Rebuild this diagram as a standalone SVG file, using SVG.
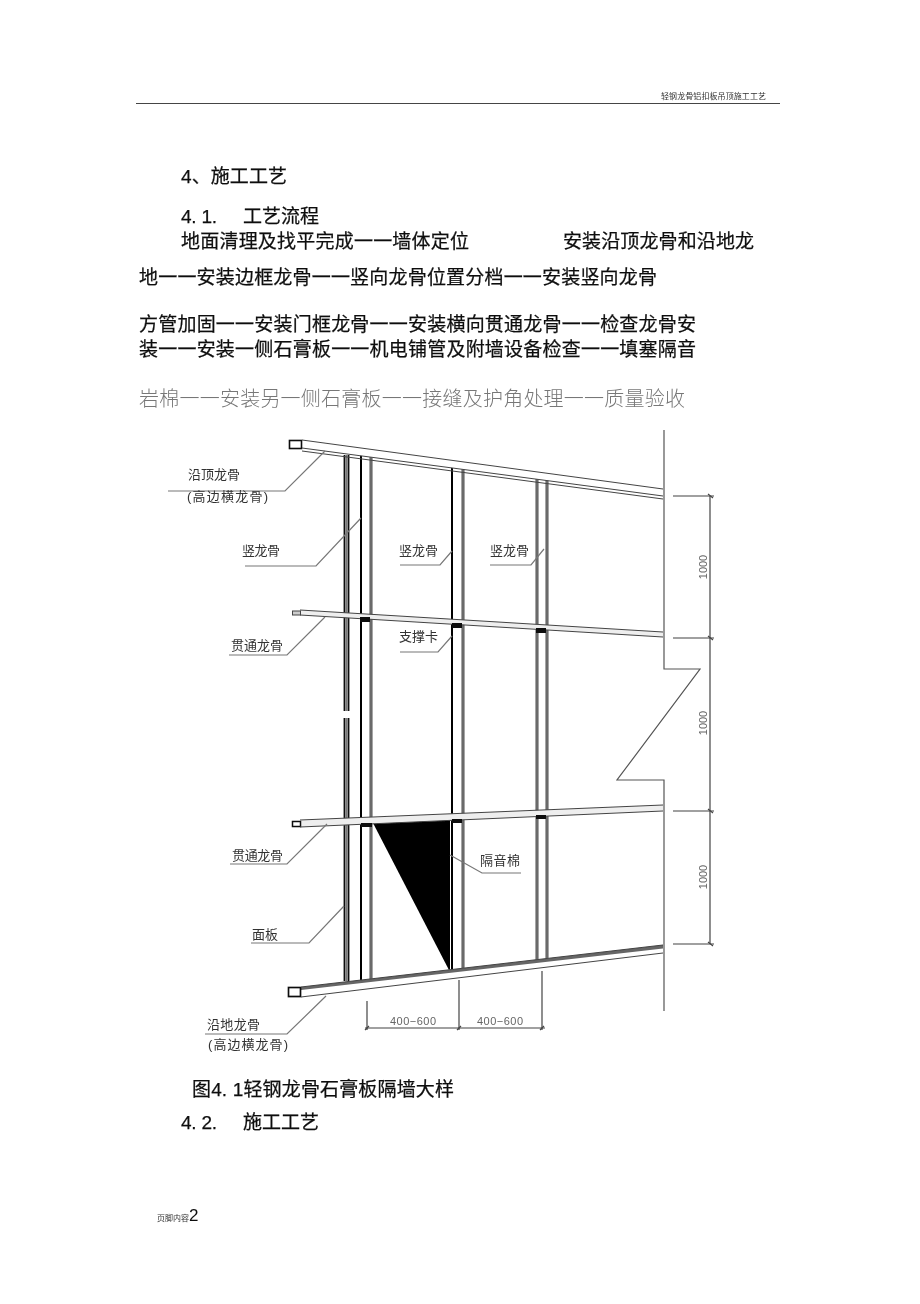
<svg xmlns="http://www.w3.org/2000/svg" width="920" height="1304" viewBox="0 0 920 1304">
<style>
text{font-family:"Liberation Sans","Noto Sans CJK SC",sans-serif;fill:#111}
.b{font-size:19px;stroke:#111;stroke-width:.25}
.g{font-size:20px;fill:#777;font-weight:300}
.h{font-size:8px;fill:#333}
.l{font-size:13px;fill:#333}
.n{font-size:11px;fill:#666}
.c{fill:none;stroke:#777;stroke-width:1.2}
.r{fill:none;stroke:#444;stroke-width:1}
.d{fill:none;stroke:#444;stroke-width:1.2}
.k{fill:none;stroke:#000;stroke-width:2}
.m{fill:none;stroke:#6a6a6a;stroke-width:3.200}
.w{fill:none;stroke:#555;stroke-width:1.2}
.s{fill:#111}
</style>
<defs><filter id="soft" x="-5%" y="-5%" width="110%" height="110%"><feGaussianBlur stdDeviation="0.35"/></filter>
<filter id="soft2" x="-5%" y="-5%" width="110%" height="110%"><feGaussianBlur stdDeviation="0.25"/></filter></defs>
<g id="page-header" filter="url(#soft2)">
<text class="h" x="661" y="99" textLength="105">轻钢龙骨铝扣板吊顶施工工艺</text>
<line x1="136" y1="103.5" x2="780" y2="103.5" stroke="#444" stroke-width="1"/>
</g>
<g id="body-text" filter="url(#soft2)">
<text class="b" x="181" y="183" textLength="106">4、施工工艺</text>
<text class="b" x="181" y="223" textLength="36">4. 1.</text>
<text class="b" x="243" y="223" textLength="76">工艺流程</text>
<text class="b" x="181" y="248" textLength="288">地面清理及找平完成一一墙体定位</text>
<text class="b" x="563" y="248" textLength="191">安装沿顶龙骨和沿地龙</text>
<text class="b" x="139" y="284" textLength="518">地一一安装边框龙骨一一竖向龙骨位置分档一一安装竖向龙骨</text>
<text class="b" x="139" y="331" textLength="557">方管加固一一安装门框龙骨一一安装横向贯通龙骨一一检查龙骨安</text>
<text class="b" x="139" y="356" textLength="557">装一一安装一侧石膏板一一机电铺管及附墙设备检查一一填塞隔音</text>
<text class="g" x="139" y="406" textLength="546">岩棉一一安装另一侧石膏板一一接缝及护角处理一一质量验收</text>
<text class="b" x="192" y="1096" textLength="262">图4. 1轻钢龙骨石膏板隔墙大样</text>
<text class="b" x="181" y="1129" textLength="36">4. 2.</text>
<text class="b" x="243" y="1129" textLength="76">施工工艺</text>
</g>
<g id="page-footer" filter="url(#soft2)">
<text class="h" x="157" y="1221" textLength="32">页脚内容</text>
<text x="189" y="1221" font-size="17">2</text>
</g>
<g id="drawing" filter="url(#soft)">
<g id="wall"><polyline class="w" points="664,430 664,669 700,669 617,780 664,780 664,1011"/></g>
<g id="studs">
<path d="M344.5 455V711M348.5 455V711M344.5 718V981M348.5 718V981" fill="none" stroke="#111" stroke-width="1.8"/>
<path d="M346.5 455V711M346.5 718V981" fill="none" stroke="#777" stroke-width="2"/>
<line class="k" x1="361" y1="455" x2="361" y2="982"/>
<line class="m" x1="371" y1="456" x2="371" y2="980"/>
<line class="k" x1="452" y1="467" x2="452" y2="971"/>
<line class="m" x1="463" y1="468" x2="463" y2="970"/>
<line class="m" x1="537" y1="479" x2="537" y2="961"/>
<line class="m" x1="547" y1="480" x2="547" y2="960"/>
</g>
<g id="insulation"><polygon points="373,823 450,818 450,972" fill="#000"/></g>
<g id="top-track">
<polygon points="302,440 663,489 663,496 302,448" fill="#fff"/>
<rect x="289.500" y="440.500" width="12" height="8" fill="#fff" stroke="#111" stroke-width="1.600"/>
<path class="r" d="M302 440L663 489M302 448L663 496M302 451L663 499"/>
</g>
<g id="mid-track-1">
<polygon points="300,610 663,632 663,637 300,615" fill="#eee"/>
<rect x="292.500" y="611" width="8" height="4" fill="#ccc" stroke="#444"/>
<path class="r" d="M300 610L663 632M300 615L663 637"/>
<path class="s" d="M360 617h10v5h-10zM452 623h10v5h-10zM536 628h10v5h-10z"/>
</g>
<g id="mid-track-2">
<polygon points="300,820 663,805 663,811 300,827" fill="#eee"/>
<rect x="292.500" y="821.500" width="8" height="5" fill="#fff" stroke="#111" stroke-width="1.500"/>
<path class="r" d="M300 820L663 805M300 827L663 811"/>
<path class="s" d="M361 823h11v4h-11zM452 819h10v4h-10zM536 815h10v4h-10z"/>
</g>
<g id="bottom-track">
<polygon points="301,987 663,945 663,953 301,997" fill="#fff"/>
<polygon points="301,987 663,945 663,948.500 301,990" fill="#666"/>
<rect x="288.500" y="987.500" width="12" height="9" fill="#fff" stroke="#111" stroke-width="1.700"/>
<path class="r" d="M301 987L663 945M301 997L663 953"/>
</g>
<g id="connectors">
<polyline class="c" points="168,491 285,491 325,451"/>
<polyline class="c" points="245,566 316,566 361,518"/>
<polyline class="c" points="400,565 440,565 452,551"/>
<polyline class="c" points="490,565 531,565 544,549"/>
<polyline class="c" points="229,655 287,655 325,617"/>
<polyline class="c" points="400,652 438,652 452,636"/>
<polyline class="c" points="230,864 287,864 327,824"/>
<polyline class="c" points="251,943 309,943 344,906"/>
<polyline class="c" points="205,1034 287,1034 326,996"/>
<polyline class="c" points="521,873 482,873 450,855"/>
</g>
<g id="dimensions">
<path class="d" d="M710 496V944M673 496H714M673 638H714M673 811H714M673 944H714"/>
<path class="d" d="M708 494L713 498M708 636L713 640M708 809L713 813M708 942L713 946"/>
<path class="d" d="M365 1028H545M367 1001V1030M459 980V1030M542 971V1030"/>
<path class="d" d="M365 1030L369 1026M457 1030L461 1026M540 1030L544 1026"/>
<text class="n" transform="translate(707,567) rotate(-90)" text-anchor="middle">1000</text>
<text class="n" transform="translate(707,723) rotate(-90)" text-anchor="middle">1000</text>
<text class="n" transform="translate(707,877) rotate(-90)" text-anchor="middle">1000</text>
<text class="n" x="390" y="1025" textLength="46">400−600</text>
<text class="n" x="477" y="1025" textLength="46">400−600</text>
</g>
<g id="labels">
<text class="l" x="188" y="479" textLength="52">沿顶龙骨</text>
<text class="l" x="187" y="501" textLength="81">(高边横龙骨)</text>
<text class="l" x="242" y="555" textLength="38">竖龙骨</text>
<text class="l" x="399" y="555" textLength="39">竖龙骨</text>
<text class="l" x="490" y="555" textLength="39">竖龙骨</text>
<text class="l" x="231" y="650" textLength="52">贯通龙骨</text>
<text class="l" x="399" y="641" textLength="39">支撑卡</text>
<text class="l" x="232" y="860" textLength="51">贯通龙骨</text>
<text class="l" x="480" y="865" textLength="40">隔音棉</text>
<text class="l" x="252" y="939" textLength="26">面板</text>
<text class="l" x="207" y="1029" textLength="53">沿地龙骨</text>
<text class="l" x="208" y="1049" textLength="80">(高边横龙骨)</text>
</g>
</g>
</svg>
